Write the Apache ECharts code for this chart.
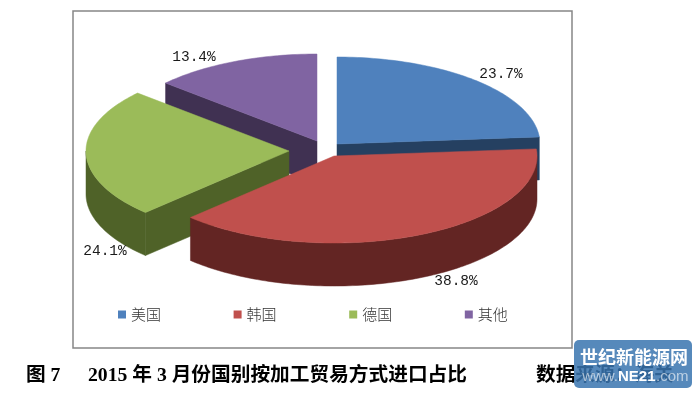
<!DOCTYPE html>
<html>
<head>
<meta charset="utf-8">
<style>
html, body { margin: 0; padding: 0; background: #fff; }
#chart { width: 698px; height: 395px; }
</style>
<script src="https://cdn.jsdelivr.net/npm/echarts@6/dist/echarts.min.js"></script>
</head>
<body>
<div id="chart"></div>
<script>
// data
var countries = ['美国', '韩国', '德国', '其他'];
var shares = [23.7, 38.8, 24.1, 13.4];
var shareLabels = ['23.7%', '38.8%', '24.1%', '13.4%'];
var topColors = ['#4F81BD', '#C0504D', '#9BBB59', '#8064A2'];
var wallColors = ['#254061', '#632523', '#4F6228', '#403152'];

// layout of the tilted pie (px)
var radiusX = 203;
var radiusY = 87;
var depth = 43;
var sliceApex = [[337, 144], [334, 156], [289, 151], [317, 141]];
var labelPos = [[501, 74], [456, 281], [105, 251], [194, 57]];
var drawOrder = [3, 0, 2, 1];

function startAngle(index) {
  var total = 0, before = 0;
  for (var i = 0; i < shares.length; i++) {
    total += shares[i];
    if (i < index) before += shares[i];
  }
  return before / total * Math.PI * 2;
}

// point on the rim, angle counted clockwise from 12 o'clock
function rim(apex, angle, drop) {
  return [apex[0] + radiusX * Math.sin(angle), apex[1] - radiusY * Math.cos(angle) + drop];
}

function arcPoints(apex, from, to, drop) {
  var pts = [];
  var steps = Math.max(2, Math.ceil((to - from) / 0.02));
  for (var i = 0; i <= steps; i++) {
    pts.push(rim(apex, from + (to - from) * i / steps, drop));
  }
  return pts;
}

function poly(points, color) {
  return { type: 'polygon', shape: { points: points }, style: { fill: color, stroke: color, lineWidth: 0.5 } };
}

function makeRenderItem(index) {
  return function (params, api) {
    var apex = sliceApex[index];
    var from = startAngle(index);
    var to = from + api.value(0) / 100 * Math.PI * 2;
    var children = [];
    var wall = wallColors[index];
    var under = [apex[0], apex[1] + depth];

    // side walls that face the viewer
    if (Math.sin(from) < -0.01) {
      children.push(poly([apex, rim(apex, from, 0), rim(apex, from, depth), under], wall));
    }
    if (Math.sin(to) > 0.01) {
      children.push(poly([apex, rim(apex, to, 0), rim(apex, to, depth), under], wall));
    }
    // outer wall, front half of the rim only
    var a = Math.max(from, Math.PI / 2);
    var b = Math.min(to, Math.PI * 1.5);
    if (b > a) {
      var front = arcPoints(apex, a, b, 0);
      var back = arcPoints(apex, a, b, depth).reverse();
      children.push(poly(front.concat(back), wall));
    }
    // top face
    children.push(poly([apex].concat(arcPoints(apex, from, to, 0)), topColors[index]));
    children.push({
      type: 'text',
      x: labelPos[index][0],
      y: labelPos[index][1],
      style: {
        text: shareLabels[index],
        fill: '#1a1a1a',
        font: '14.5px "Liberation Mono", monospace',
        textAlign: 'center',
        textVerticalAlign: 'middle'
      }
    });
    return { type: 'group', children: children };
  };
}

var series = [];
for (var k = 0; k < drawOrder.length; k++) {
  var idx = drawOrder[k];
  series.push({
    type: 'custom',
    name: countries[idx],
    coordinateSystem: 'none',
    z: 10 + k,
    silent: true,
    animation: false,
    itemStyle: { color: topColors[idx] },
    renderItem: makeRenderItem(idx),
    data: [[shares[idx]]]
  });
}

var captionFont = 'bold 19.7px "Liberation Serif", "Noto Sans CJK SC"';

var myChart = echarts.init(document.getElementById('chart'));
myChart.setOption({
  animation: false,
  backgroundColor: '#fff',
  legend: {
    left: 113,
    top: 302,
    icon: 'rect',
    itemWidth: 8,
    itemHeight: 8,
    itemGap: 72.6,
    data: countries,
    textStyle: { fontFamily: '"Noto Sans CJK SC"', fontSize: 15, fontWeight: 300, color: '#333' }
  },
  graphic: [
    { type: 'rect', z: 1, shape: { x: 73, y: 11, width: 499, height: 337 }, style: { fill: '#fff', stroke: '#868686', lineWidth: 1.5 } },
    { type: 'text', z: 1, x: 26, y: 376, style: { text: '图 7', fill: '#000', font: captionFont, textVerticalAlign: 'middle' } },
    { type: 'text', z: 1, x: 88, y: 376, style: { text: '2015 年 3 月份国别按加工贸易方式进口占比', fill: '#000', font: captionFont, textVerticalAlign: 'middle' } },
    { type: 'text', z: 1, x: 536, y: 376, style: { text: '数据来源：海关', fill: '#000', font: captionFont, textVerticalAlign: 'middle' } },
    // site watermark
    { type: 'rect', z: 30, shape: { x: 574, y: 340, width: 118, height: 48, r: 5 }, style: { fill: 'rgba(56,116,175,0.85)' } },
    { type: 'text', z: 31, x: 634, y: 357, style: { text: '世纪新能源网', fill: '#fff', font: 'bold 18px "Noto Sans CJK SC"', textAlign: 'center', textVerticalAlign: 'middle' } },
    { type: 'text', z: 31, x: 618, y: 377, style: { text: 'www.', fill: 'rgba(255,255,255,0.6)', font: '15px "Liberation Sans"', textAlign: 'right', textVerticalAlign: 'middle' } },
    { type: 'text', z: 31, x: 618, y: 377, style: { text: 'NE21', fill: '#fff', font: 'bold 15px "Liberation Sans"', textAlign: 'left', textVerticalAlign: 'middle' } },
    { type: 'text', z: 31, x: 656, y: 377, style: { text: '.com', fill: 'rgba(255,255,255,0.6)', font: '15px "Liberation Sans"', textAlign: 'left', textVerticalAlign: 'middle' } }
  ],
  series: series
});
</script>
</body>
</html>
